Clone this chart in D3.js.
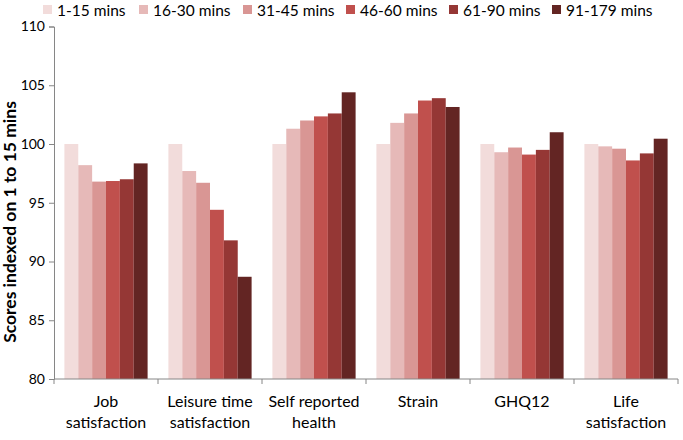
<!DOCTYPE html>
<html>
<head>
<meta charset="utf-8">
<script src="https://cdn.jsdelivr.net/npm/d3@7"></script>
<style>
  html, body { margin: 0; padding: 0; background: #fff; }
  svg { display: block; }
  text { font-family: Lato, "Open Sans", sans-serif; fill: #000; }
</style>
</head>
<body>
<svg id="chart" width="683" height="440"></svg>
<script>
// ---- data ----
const categories = [
  ["Job", "satisfaction"],
  ["Leisure time", "satisfaction"],
  ["Self reported", "health"],
  ["Strain"],
  ["GHQ12"],
  ["Life", "satisfaction"]
];
const series = ["1-15 mins", "16-30 mins", "31-45 mins", "46-60 mins", "61-90 mins", "91-179 mins"];
const values_1_15   = [100.0, 100.0, 100.0, 100.0, 100.0, 100.0];
const values_16_30  = [98.2, 97.7, 101.3, 101.8, 99.3, 99.8];
const values_31_45  = [96.8, 96.7, 102.0, 102.6, 99.7, 99.6];
const values_46_60  = [96.85, 94.4, 102.35, 103.7, 99.1, 98.6];
const values_61_90  = [97.0, 91.8, 102.6, 103.9, 99.5, 99.2];
const values_91_179 = [98.35, 88.7, 104.4, 103.15, 101.0, 100.45];
const yTicks = [80, 85, 90, 95, 100, 105, 110];
const colors = ["#f2dcdb", "#e6b9b8", "#d99694", "#c0504d", "#953735", "#632523"];

const seriesValues = [values_1_15, values_16_30, values_31_45, values_46_60, values_61_90, values_91_179];
const catKeys = categories.map(c => c.join(" "));

// ---- layout ----
const svg = d3.select("#chart");
const mLeft = 54, mRight = 678, mTop = 26.5, mBottom = 379;

const y = d3.scaleLinear().domain([80, 110]).range([mBottom, mTop]);
const x0 = d3.scaleBand().domain(catKeys).range([mLeft, mRight]).padding(0);
const bw = x0.bandwidth();
const x1 = d3.scaleBand().domain(series).range([bw * 0.1, bw * 0.9]).padding(0);
const color = d3.scaleOrdinal().domain(series).range(colors);

// bars
const groups = svg.append("g").selectAll("g")
  .data(catKeys)
  .join("g")
  .attr("transform", d => `translate(${x0(d)},0)`);

groups.selectAll("rect")
  .data((d, i) => series.map((s, j) => ({ s, v: seriesValues[j][i] })))
  .join("rect")
  .attr("x", d => x1(d.s))
  .attr("width", x1.bandwidth())
  .attr("y", d => y(d.v))
  .attr("height", d => y(80) - y(d.v))
  .attr("fill", d => color(d.s));

// y axis
const yAxis = svg.append("g")
  .attr("transform", `translate(${mLeft},0)`)
  .call(d3.axisLeft(y).tickValues(yTicks).tickSize(5).tickPadding(4));
yAxis.select(".domain").attr("stroke", "#868686");
yAxis.selectAll(".tick line").attr("stroke", "#868686");
yAxis.selectAll(".tick text").style("font-family", "Lato, sans-serif").style("font-size", "14px").attr("fill", "#000");

// x axis (ticks at category boundaries)
const xAxisG = svg.append("g");
xAxisG.append("line")
  .attr("x1", mLeft).attr("x2", mRight)
  .attr("y1", mBottom).attr("y2", mBottom)
  .attr("stroke", "#868686");
const boundaries = catKeys.map(k => x0(k)).concat([mRight]);
xAxisG.selectAll("line.tk")
  .data(boundaries)
  .join("line")
  .attr("class", "tk")
  .attr("x1", d => d).attr("x2", d => d)
  .attr("y1", mBottom).attr("y2", mBottom + 5)
  .attr("stroke", "#868686");

// category labels
const labels = svg.append("g").selectAll("text")
  .data(categories)
  .join("text")
  .attr("text-anchor", "middle")
  .attr("x", (d, i) => x0(catKeys[i]) + bw / 2)
  .attr("y", 407)
  .style("font-size", "16px");
labels.selectAll("tspan")
  .data(d => d)
  .join("tspan")
  .attr("x", function() { return this.parentNode.getAttribute("x"); })
  .attr("dy", (d, i) => i === 0 ? 0 : 21)
  .text(d => d);

// y axis title
svg.append("text")
  .attr("transform", "translate(16,222) rotate(-90)")
  .attr("text-anchor", "middle")
  .style("font-size", "17.5px")
  .style("font-weight", "bold")
  .text("Scores indexed on 1 to 15 mins");

// legend
const legendX = [43, 139, 243, 346, 449, 552];
const legend = svg.append("g").selectAll("g")
  .data(series)
  .join("g")
  .attr("transform", (d, i) => `translate(${legendX[i]},0)`);
legend.append("rect")
  .attr("x", 0).attr("y", 5)
  .attr("width", 9).attr("height", 9)
  .attr("fill", d => color(d));
legend.append("text")
  .attr("x", 14).attr("y", 15.5)
  .style("font-size", "15.5px")
  .text(d => d);
</script>
</body>
</html>
